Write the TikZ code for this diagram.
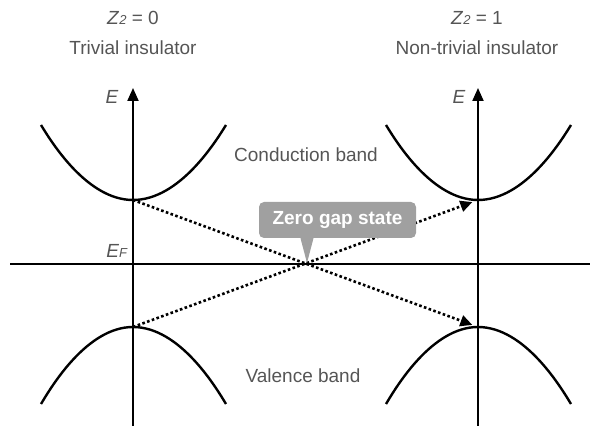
\documentclass[tikz,border=0pt]{standalone}
\usepackage{fontspec}
\setmainfont{Liberation Sans}
\usetikzlibrary{positioning,arrows.meta}
\definecolor{txtgray}{HTML}{555555}
\definecolor{callgray}{HTML}{A0A0A0}

\begin{document}
\begin{tikzpicture}[x=1pt,y=-1pt,
  lbl/.style={text=txtgray,font=\fontsize{19}{22}\selectfont,inner sep=0pt},
  axis/.style={line width=2pt,-{Triangle[length=13pt,width=11pt]}},
  band/.style={line width=2.4pt},
  trans/.style={line width=2.6pt,dash pattern=on 2.6pt off 2.4pt,shorten >=6pt,-{Triangle[length=12pt,width=11pt]}},
  callout/.style={fill=callgray,rounded corners=5pt,text=white,font=\fontsize{19}{22}\selectfont\bfseries,minimum width=157pt,minimum height=36pt,inner sep=0pt}]
\useasboundingbox (0,0) rectangle (590,430);
% axes
\coordinate (lbot) at (133,426);
\coordinate (ltop) at (133,88);
\coordinate (rbot) at (478,426);
\coordinate (rtop) at (478,88);
\coordinate (fl) at (10,264);
\coordinate (fr) at (590,264);
\draw[axis] (lbot) -- (ltop);
\draw[axis] (rbot) -- (rtop);
\draw[line width=2pt] (fl) -- (fr);
% band extrema
\coordinate (lcb) at (133,200);
\coordinate (lvb) at (133,327);
\coordinate (rcb) at (478,200);
\coordinate (rvb) at (478,327);
\draw[band] (41,125) parabola bend (lcb) (226,125);
\draw[band] (41,404) parabola bend (lvb) (226,404);
\draw[band] (386,125) parabola bend (rcb) (571,125);
\draw[band] (386,404) parabola bend (rvb) (571,404);
\draw[trans] (lcb) -- (rvb);
\draw[trans] (lvb) -- (rcb);
% labels
\node[lbl] (ztriv) at (133,18) {\textit{Z}\raisebox{-0.5pt}{\fontsize{13}{13}\selectfont\textit{2}} = 0};
\node[lbl] (triv) at (133,48) {Trivial insulator};
\node[lbl] (znon) at (477,18) {\textit{Z}\raisebox{-0.5pt}{\fontsize{13}{13}\selectfont\textit{2}} = 1};
\node[lbl] (nontriv) at (477,48) {Non-trivial insulator};
\node[lbl] (el) at (112,97) {\textit{E}};
\node[lbl] (er) at (459,97) {\textit{E}};
\node[lbl] (ef) at (117,251) {\textit{E}\raisebox{-0.5pt}{\fontsize{13}{13}\selectfont\textit{F}}};
\node[lbl] (cond) at (306,155) {Conduction band};
\node[lbl] (val) at (303,376) {Valence band};
% callout
\node[callout] (zgs) at (337.5,220) {Zero gap state};
\coordinate (tip) at (307,263);
\fill[callgray] ([xshift=-37pt]zgs.south) -- (tip) -- ([xshift=-24pt]zgs.south) -- cycle;
\end{tikzpicture}
\end{document}
